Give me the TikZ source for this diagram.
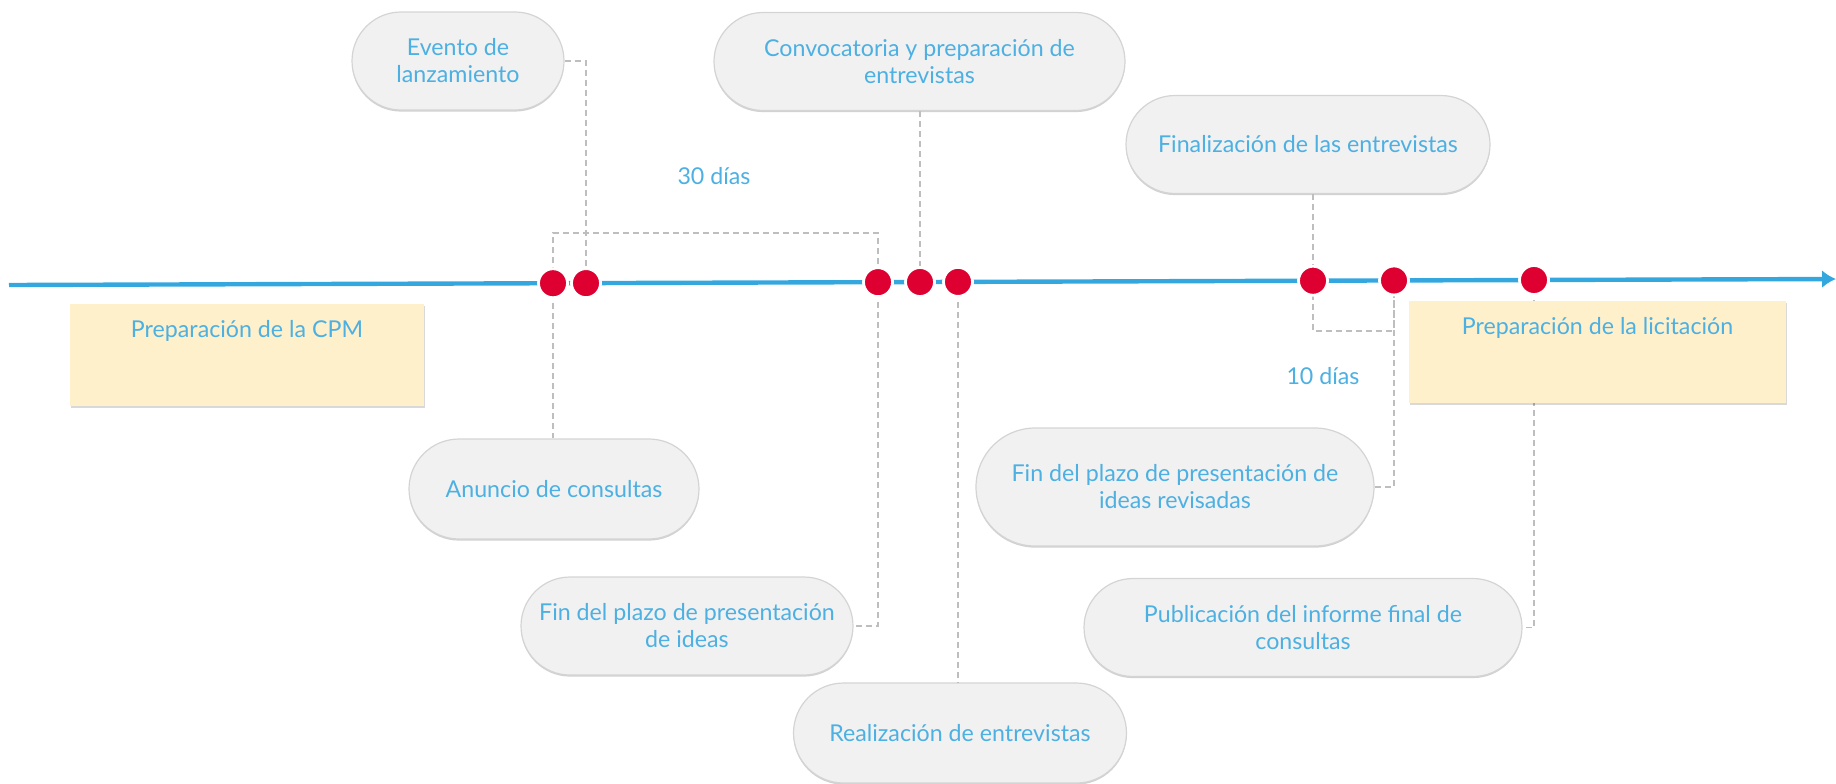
\documentclass[tikz,border=0pt]{standalone}
\usepackage{fontspec}
\setmainfont{Lato}
\usetikzlibrary{arrows.meta,shapes.misc,shadows}
\definecolor{lineblue}{RGB}{52,168,222}
\definecolor{txtblue}{RGB}{76,176,226}
\definecolor{dotred}{RGB}{221,0,49}
\definecolor{pillgray}{RGB}{241,241,241}
\definecolor{pillline}{RGB}{212,212,212}
\definecolor{notefill}{RGB}{255,240,204}
\definecolor{linkgray}{RGB}{190,190,190}
\tikzset{
  pill/.style={rounded rectangle, draw=pillline, fill=pillgray, line width=0.6pt,
    minimum height=49pt, inner sep=2pt, text=txtblue, align=center,
    font=\fontsize{11.6}{13.5}\selectfont,
    drop shadow={shadow xshift=0pt, shadow yshift=-0.8pt, opacity=0.18, fill=black}},
  note/.style={fill=notefill, minimum height=51pt, anchor=north, inner ysep=8pt,
    text height=8.5pt, text depth=26.5pt, text=txtblue, font=\fontsize{11.6}{13.5}\selectfont,
    drop shadow={shadow xshift=0.3pt, shadow yshift=-0.6pt, opacity=0.15, fill=black}},
  dot/.style={circle, fill=dotred, draw=white, line width=1.4pt, minimum size=14.5pt,
    inner sep=0pt, drop shadow={shadow xshift=0pt, shadow yshift=-0.4pt, opacity=0.2, fill=black}},
  link/.style={draw=linkgray, line width=0.9pt, dash pattern=on 3pt off 2pt},
  days/.style={text=txtblue, font=\fontsize{11.6}{13.5}\selectfont}
}
\begin{document}
\begin{tikzpicture}[x=0.5pt,y=-0.5pt]
\useasboundingbox (0,0) rectangle (1836,783);

\coordinate (start) at (9,285);
\coordinate (end) at (1836,279);

\node[pill, minimum width=110pt] (evento) at (458,61) {Evento de\\lanzamiento};
\node[pill, minimum width=209.5pt] (convoc) at (919.5,61.5) {Convocatoria y preparación de\\entrevistas};
\node[pill, minimum width=186pt] (finaliz) at (1308,144.5) {Finalización de las entrevistas};
\node[pill, minimum width=149pt, minimum height=50pt] (anuncio) at (554,489) {Anuncio de consultas};
\node[pill, minimum width=170pt] (finideas) at (687,626) {Fin del plazo de presentación\\de ideas};
\node[pill, minimum width=170.5pt, minimum height=50pt] (realiz) at (960,733) {Realización de entrevistas};
\node[pill, minimum width=203pt, minimum height=59pt] (finrev) at (1175,487) {Fin del plazo de presentación de\\ideas revisadas};
\node[pill, minimum width=223pt] (public) at (1303,627.5) {Publicación del informe final de\\consultas};

\node[days] (treinta) at (714,176) {30 días};
\node[days] (diez) at (1323,376) {10 días};

%timeline
\draw[lineblue, line width=2.2pt, -{Latex[length=7pt,width=9pt]}] (start) -- (end);

\foreach \x/\n in {553/d1,586/d2,878/d3,920/d4,958/d5,1313/d6,1394/d7,1534/d8}
  \coordinate (\n) at (\x,{285-(\x-9)*0.00328});

\draw[link] (evento.east) -| (d2);
\draw[link] (d1) -- ++(0,-50) -| (d3);
\draw[link] (d1) -- (d1 |- anuncio.north);
\draw[link] (d3) |- (finideas.east);
\draw[link] (convoc.south -| d4) -- (d4);
\draw[link] (d5) -- (d5 |- realiz.north);
\draw[link] (finaliz.south -| d6) -- (d6) -- ++(0,50) -| (d7);
\draw[link] (d7) |- (finrev.east);
\draw[link] (d8) |- (public.east);

\foreach \n in {d1,d2,d3,d4,d5,d6,d7,d8}
  \node[dot] at (\n) {};

\node[note, minimum width=177pt] (cpm) at (247,304) {Preparación de la CPM};
\node[note, minimum width=188.5pt] (licit) at (1597.5,301) {Preparación de la licitación};
\end{tikzpicture}
\end{document}
